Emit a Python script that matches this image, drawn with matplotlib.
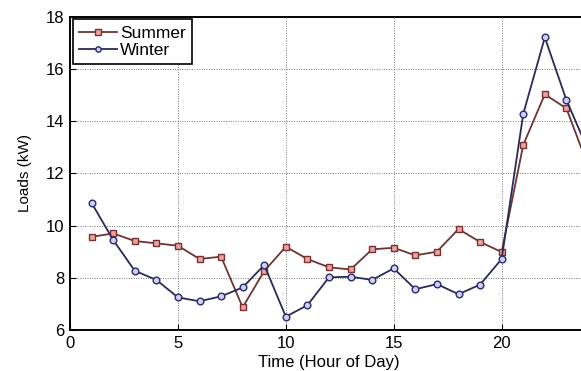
import matplotlib
matplotlib.use("Agg")
import matplotlib.pyplot as plt

hours = list(range(1, 25))
summer = [9.57, 9.70, 9.41, 9.32, 9.23, 8.72, 8.81, 6.87, 8.26, 9.19,
          8.72, 8.40, 8.32, 9.09, 9.15, 8.86, 9.00, 9.87, 9.37, 8.99,
          13.09, 15.03, 14.49, 12.3]
winter = [10.87, 9.45, 8.27, 7.92, 7.25, 7.10, 7.29, 7.63, 8.49, 6.51,
          6.95, 8.02, 8.04, 7.92, 8.36, 7.56, 7.76, 7.37, 7.74, 8.72,
          14.28, 17.21, 14.81, 12.9]
xticks = [0, 5, 10, 15, 20]
yticks = [6, 8, 10, 12, 14, 16, 18]

plt.rcParams['font.family'] = ['Liberation Sans', 'DejaVu Sans']

fig = plt.figure(figsize=(5.81, 3.71), dpi=100)
W, H = 581, 371
left, right, top, bottom = 70, 588, 16.8, 330
ax = fig.add_axes([left / W, (H - bottom) / H, (right - left) / W, (bottom - top) / H])

ax.plot(hours, summer, '-s', color='#6e3434', lw=1.3, ms=4.6,
        mfc='#eaa5a0', mec='#7a3030', mew=1.0, label='Summer')
ax.plot(hours, winter, '-o', color='#2a2a58', lw=1.3, ms=4.8,
        mfc='#cfd0ee', mec='#2a2a70', mew=1.0, label='Winter')

ax.set_xlim(0, 24)
ax.set_ylim(6, 18)
ax.set_xticks(xticks)
ax.set_yticks(yticks)
ax.grid(True, linestyle=(0, (1, 1.5)), color='#777777', lw=0.7)
ax.tick_params(direction='in', length=4, labelsize=12, width=0.8, pad=4)
for s in ax.spines.values():
    s.set_linewidth(1.4)
ax.set_xlabel('Time (Hour of Day)', fontsize=12, labelpad=3)
ax.set_ylabel('Loads (kW)', fontsize=11, labelpad=10)

leg = ax.legend(loc='upper left', fontsize=12.5, frameon=True, fancybox=False,
                edgecolor='black', framealpha=1, borderpad=0.35, labelspacing=0.12,
                handlelength=2.2, handletextpad=0.2, borderaxespad=0.15,
                markerscale=0.8)
leg.get_frame().set_linewidth(1.2)

fig.savefig('out.png', dpi=100)
